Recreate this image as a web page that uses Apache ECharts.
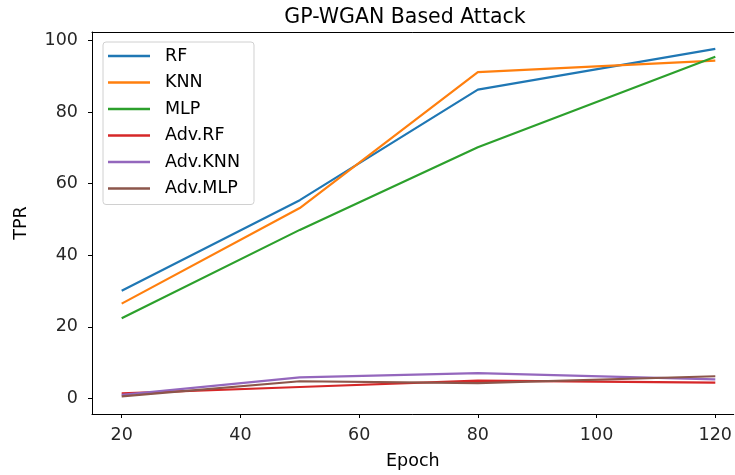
<!DOCTYPE html>
<html>
<head>
<meta charset="utf-8">
<script src="https://cdn.jsdelivr.net/npm/echarts@6/dist/echarts.min.js"></script>
<style>
  html, body { margin: 0; padding: 0; background: #fff; }
  #chart { width: 735px; height: 475px; }
</style>
</head>
<body>
<div id="chart"></div>
<script>
// epochs on the x axis
const epochs = [20, 50, 80, 120];

// TPR per model
const rf = [30.1, 55.4, 86.3, 97.7];
const knn = [26.5, 53.2, 91.2, 94.4];
const mlp = [22.4, 47.1, 70.2, 95.5];
const advRf = [1.4, 3.2, 5.0, 4.4];
const advKnn = [1.0, 5.9, 7.1, 5.3];
const advMlp = [0.6, 4.8, 4.3, 6.2];

const xTicks = [20, 40, 60, 80, 100, 120];
const yTicks = [0, 20, 40, 60, 80, 100];

const names = ['RF', 'KNN', 'MLP', 'Adv.RF', 'Adv.KNN', 'Adv.MLP'];
const colors = ['#1f77b4', '#ff7f0e', '#2ca02c', '#d62728', '#9467bd', '#8c564b'];
const values = [rf, knn, mlp, advRf, advKnn, advMlp];

const font = 'DejaVu Sans';
const fs = 17.5;

const chart = echarts.init(document.getElementById('chart'));

const option = {
    animation: false,
    color: colors,
    title: {
        text: 'GP-WGAN Based Attack',
        left: 400,
        top: 2,
        textAlign: 'center',
        textStyle: { fontFamily: font, fontSize: 20.5, fontWeight: 'normal', color: '#000' }
    },
    legend: {
        orient: 'vertical',
        left: 103,
        top: 42,
        data: names,
        icon: 'rect',
        itemWidth: 42,
        itemHeight: 2.5,
        itemGap: 6.5,
        padding: [4, 14, 6, 5],
        borderColor: '#d0d0d0',
        borderWidth: 1,
        borderRadius: 3,
        backgroundColor: 'rgba(255,255,255,0.8)',
        textStyle: { fontFamily: font, fontSize: fs, color: '#000', lineHeight: 20, padding: [0, 0, 0, 10] }
    },
    grid: {
        left: 92,
        right: 0,
        top: 32,
        bottom: 59
    },
    xAxis: [{
        type: 'value',
        min: 15,
        max: 123.1,
        name: 'Epoch',
        nameLocation: 'middle',
        nameGap: 38,
        nameTextStyle: { fontFamily: font, fontSize: fs, color: '#000' },
        axisLine: { onZero: false, lineStyle: { color: '#000', width: 1 } },
        axisTick: { show: true, length: 4, customValues: xTicks, lineStyle: { color: '#000' } },
        axisLabel: { customValues: xTicks, margin: 12, fontFamily: font, fontSize: fs, color: '#262626' },
        splitLine: { show: false }
    }, {
        // top spine only
        type: 'value',
        position: 'top',
        min: 15,
        max: 123.1,
        axisLine: { show: true, onZero: false, lineStyle: { color: '#000', width: 1 } },
        axisTick: { show: false },
        axisLabel: { show: false },
        splitLine: { show: false }
    }],
    yAxis: {
        type: 'value',
        min: -4.35,
        max: 102.4,
        name: 'TPR',
        nameLocation: 'middle',
        nameGap: 62,
        nameTextStyle: { fontFamily: font, fontSize: fs, color: '#000' },
        axisLine: { show: true, onZero: false, lineStyle: { color: '#000', width: 1 } },
        axisTick: { show: true, length: 4, customValues: yTicks, lineStyle: { color: '#000' } },
        axisLabel: { customValues: yTicks, margin: 14, fontFamily: font, fontSize: fs, color: '#262626' },
        splitLine: { show: false }
    },
    series: names.map((name, i) => ({
        name: name,
        type: 'line',
        showSymbol: false,
        symbol: 'none',
        lineStyle: { width: 2.2, color: colors[i] },
        itemStyle: { color: colors[i] },
        data: epochs.map((e, j) => [e, values[i][j]])
    }))
};

chart.setOption(option);
</script>
</body>
</html>
